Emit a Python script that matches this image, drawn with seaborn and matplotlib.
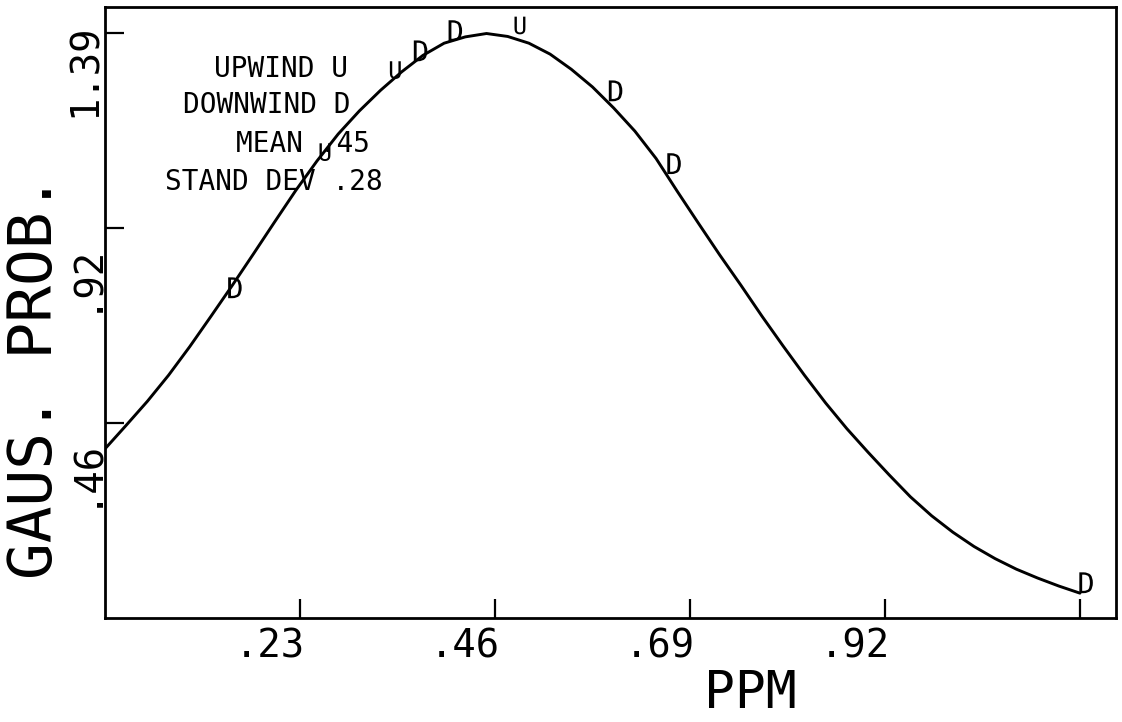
import numpy as np
import pandas as pd
import matplotlib
matplotlib.use("Agg")
import matplotlib.pyplot as plt
from matplotlib.textpath import TextPath
from matplotlib.font_manager import FontProperties
from matplotlib.path import Path
from matplotlib.transforms import ScaledTranslation
import seaborn as sns

# Gaussian probability curve sampled along the PPM axis
curve_ppm = [0.000, 0.025, 0.050, 0.075, 0.100, 0.125, 0.150, 0.175, 0.200, 0.225,
             0.250, 0.275, 0.300, 0.325, 0.350, 0.375, 0.400, 0.425, 0.450, 0.475,
             0.500, 0.525, 0.550, 0.575, 0.600, 0.625, 0.650, 0.675, 0.700, 0.725,
             0.750, 0.775, 0.800, 0.825, 0.850, 0.875, 0.900, 0.925, 0.950, 0.975,
             1.000, 1.025, 1.050, 1.075, 1.100, 1.125, 1.150]
curve_prob = [0.402, 0.458, 0.515, 0.577, 0.645, 0.717, 0.790, 0.865, 0.941, 1.016,
              1.086, 1.150, 1.205, 1.254, 1.298, 1.337, 1.366, 1.381, 1.389, 1.382,
              1.366, 1.340, 1.304, 1.262, 1.212, 1.157, 1.092, 1.014, 0.938, 0.863,
              0.791, 0.717, 0.646, 0.577, 0.511, 0.450, 0.394, 0.340, 0.288, 0.243,
              0.204, 0.170, 0.141, 0.116, 0.095, 0.076, 0.059]

# Observed concentrations and their probabilities
obs_ppm = [0.143, 0.251, 0.334, 0.362, 0.403, 0.481, 0.592, 0.661, 1.147]
obs_prob = [0.760, 1.086, 1.281, 1.323, 1.371, 1.387, 1.228, 1.055, 0.059]
obs_site = ["DOWNWIND", "UPWIND", "UPWIND", "DOWNWIND", "DOWNWIND",
            "UPWIND", "DOWNWIND", "DOWNWIND", "DOWNWIND"]

x_ticks = [0.23, 0.46, 0.69, 0.92, 1.15]
x_tick_labels = [".23", ".46", ".69", ".92", ""]
y_ticks = [0.4633, 0.9267, 1.39]
y_tick_labels = [".46", ".92", "1.39"]

legend_lines = ["UPWIND U", "DOWNWIND D", "MEAN .45", "STAND DEV .28"]

sns.set_style("white")
plt.rcParams["font.family"] = ["DejaVu Sans Mono", "DejaVu Sans"]

curve = pd.DataFrame({"ppm": curve_ppm, "prob": curve_prob})
obs = pd.DataFrame({"ppm": obs_ppm, "prob": obs_prob, "site": obs_site})

fig = plt.figure(figsize=(11.22, 7.22), dpi=100)
ax = fig.add_axes([105 / 1122, 104 / 722, 1011 / 1122, 611 / 722])

sns.lineplot(data=curve, x="ppm", y="prob", color="black", linewidth=2.1,
             ax=ax, legend=False)


def letter_marker(ch):
    """Glyph outline whose lower-left corner sits at the data point."""
    tp = TextPath((0, 0), ch, prop=FontProperties(family="DejaVu Sans Mono"))
    v = tp.vertices.copy()
    v[:, 0] -= v[:, 0].min()
    v[:, 1] -= v[:, 1].min()
    return Path(v, tp.codes)


site_marker = {"DOWNWIND": letter_marker("D"), "UPWIND": letter_marker("U")}
site_size = {"DOWNWIND": 900, "UPWIND": 650}
for site in ["DOWNWIND", "UPWIND"]:
    sub = obs[obs["site"] == site]
    sns.scatterplot(data=sub, x="ppm", y="prob", marker=site_marker[site],
                    s=site_size[site], color="black", edgecolor="none",
                    linewidth=0, ax=ax, legend=False, zorder=3)

ax.set_xlim(0, 1.1925)
ax.set_ylim(0, 1.452)

for s in ax.spines.values():
    s.set_linewidth(2.0)
    s.set_color("black")

ax.tick_params(axis="both", direction="in", length=14, width=1.6, colors="black",
               labelsize=28, bottom=True, left=True, top=False, right=False)
ax.tick_params(axis="x", pad=7)
ax.tick_params(axis="y", pad=1)

ax.set_xticks(x_ticks)
ax.set_xticklabels(x_tick_labels)
ax.set_yticks(y_ticks)
ax.set_yticklabels(y_tick_labels, rotation=90)

for lab in ax.get_xticklabels():
    lab.set_horizontalalignment("left")
    lab.set_transform(lab.get_transform() +
                      ScaledTranslation(-0.65, 0, fig.dpi_scale_trans))
for lab in ax.get_yticklabels():
    lab.set_horizontalalignment("right")
    lab.set_verticalalignment("bottom")
    lab.set_transform(lab.get_transform() +
                      ScaledTranslation(0, -0.84, fig.dpi_scale_trans))

ax.set_xlabel("PPM", fontsize=37, color="black")
ax.xaxis.set_label_coords(0.638, -0.083)
ax.set_ylabel("GAUS. PROB.", fontsize=44, color="black")
ax.yaxis.set_label_coords(-0.040, 0.394)

legend_x = [0.174, 0.160, 0.196, 0.167]
legend_y = [0.8985, 0.8396, 0.7758, 0.7136]
for txt, lx, ly in zip(legend_lines, legend_x, legend_y):
    ax.text(lx, ly, txt, transform=ax.transAxes, ha="center", va="center",
            fontsize=20, color="black")

fig.savefig("out.png", dpi=100, facecolor="white")
